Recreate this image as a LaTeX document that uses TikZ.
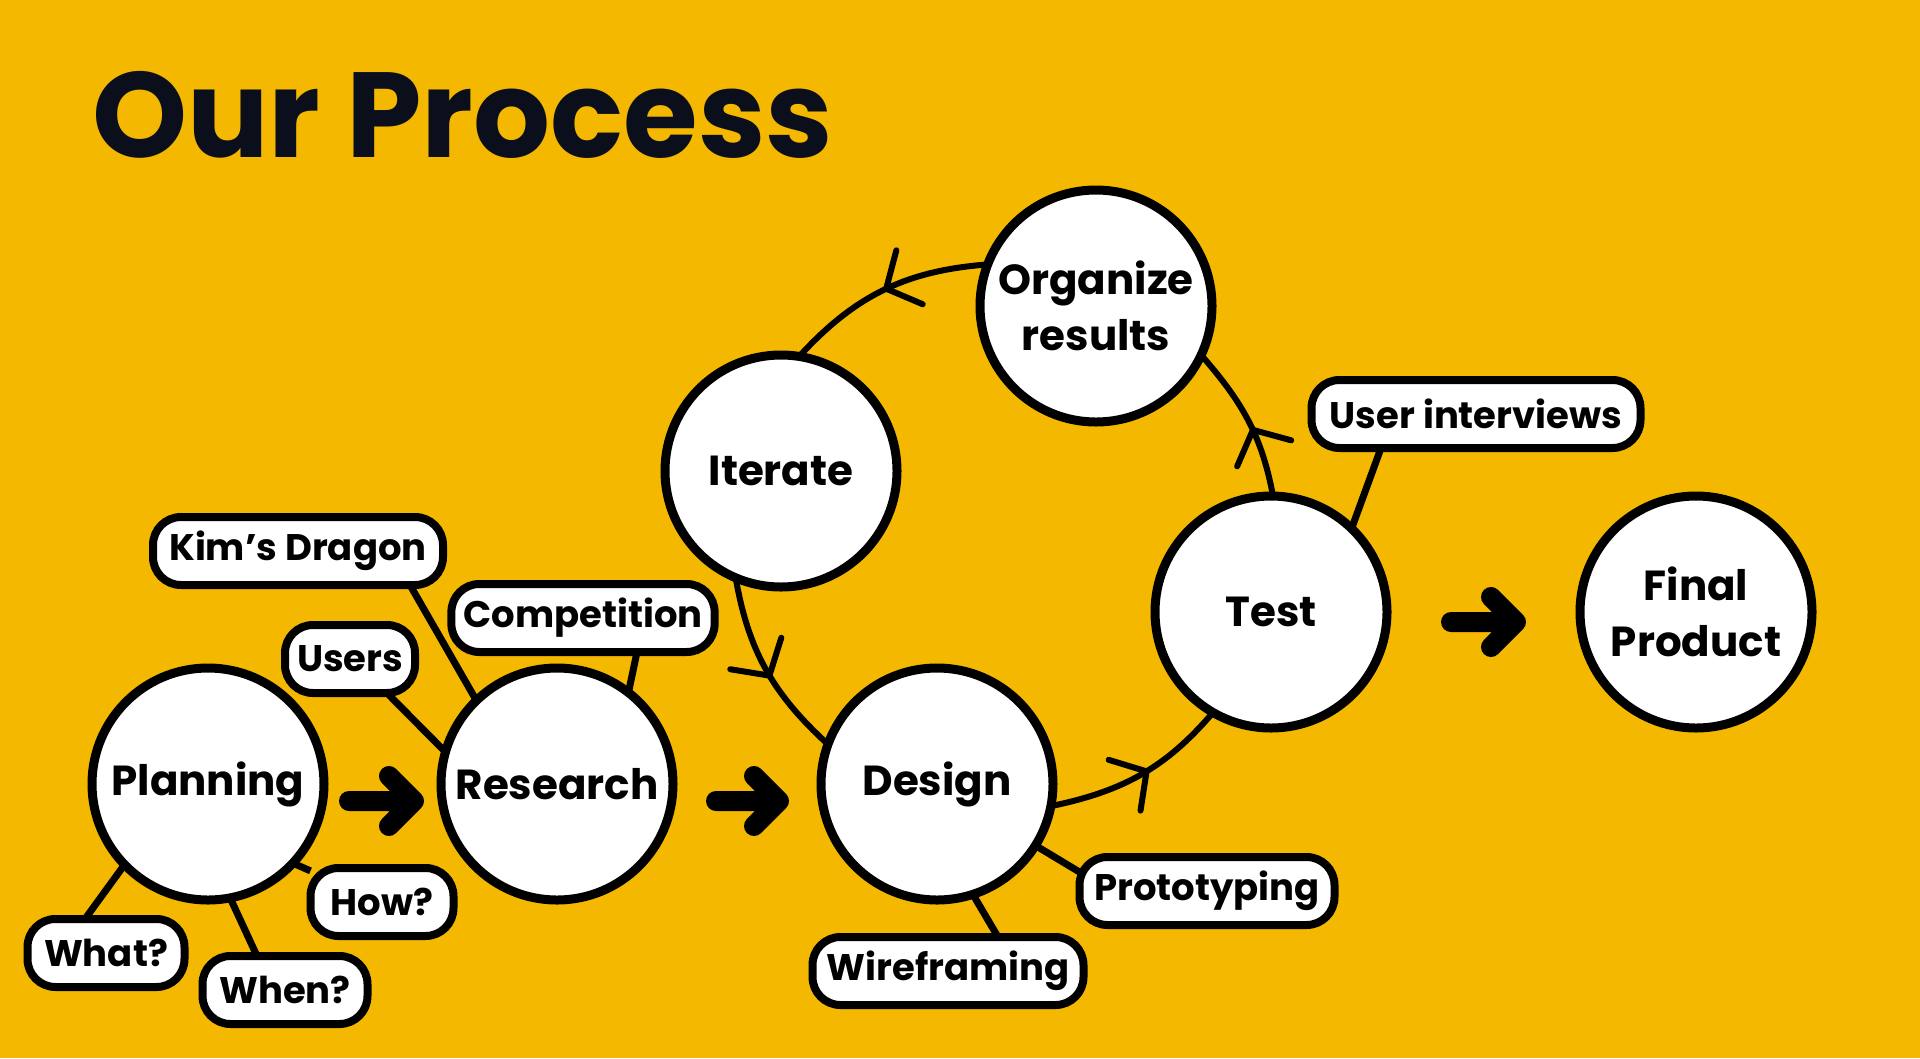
\documentclass[tikz,border=0pt]{standalone}
\usepackage{fontspec}
\setmainfont{Poppins}
\usetikzlibrary{arrows.meta,decorations.markings,backgrounds}
\definecolor{bgc}{HTML}{F5B800}
\definecolor{titlec}{HTML}{0B0F1C}
\tikzset{
  stage/.style={circle, draw=black, fill=white, line width=9pt, minimum size=232pt,
    inner sep=0pt, outer sep=0pt, align=center,
    font=\bfseries\fontsize{42}{56}\selectfont},
  tag/.style={rounded corners=28pt, draw=black, fill=white, line width=8pt,
    minimum height=68pt, inner xsep=12pt, inner ysep=0pt, outer sep=0pt,
    font=\bfseries\fontsize{37}{42}\selectfont},
  link/.style={line width=7pt},
  fat/.style={line width=20pt, line cap=round, line join=round},
  cyc/.style={line width=6pt, postaction={decorate},
    decoration={markings, mark=at position #1 with {\arrow{Straight Barb[round,length=26pt,width=60pt]}}}},
  cyc/.default=0.5
}
\begin{document}
\begin{tikzpicture}[x=1pt,y=-1pt]
\useasboundingbox (0,0) rectangle (1920,1058);
% title
\node[anchor=base west, inner sep=0pt, text=titlec, font=\bfseries\fontsize{121}{128}\selectfont] (title) at (92,157) {Our Process};
% stages
\node[stage] (plan) at (208,784) {Planning};
\node[stage] (res) at (557,784) {Research};
\node[stage] (des) at (937,784) {Design};
\node[stage] (it) at (781,471) {Iterate};
\node[stage] (org) at (1096,306) {Organize\\results};
\node[stage] (test) at (1271,612) {Test};
\node[stage] (fin) at (1696,612) {Final\\Product};
% tags
\node[tag, minimum width=290] (kim) at (298,551) {Kim’s Dragon};
\node[tag, minimum width=257] (comp) at (583,618) {Competition};
\node[tag, minimum width=129] (users) at (350,659) {Users};
\node[tag, minimum width=143] (how) at (382,902) {How?};
\node[tag, minimum width=157] (what) at (106,953) {What?};
\node[tag, minimum width=165] (when) at (285,990) {When?};
\node[tag, minimum width=255] (proto) at (1207,891) {Prototyping};
\node[tag, minimum width=271] (wire) at (948,971) {Wireframing};
\node[tag, minimum width=329] (ui) at (1476,414) {User interviews};
\begin{pgfonlayer}{background}
\fill[bgc] (0,0) rectangle (1920,1058);
% tag links
\draw[link] ([xshift=112pt]kim.south) -- (res.134);
\draw[link] ([xshift=54pt]comp.south) -- (res.52.4);
\draw[link] ([xshift=37pt]users.south) -- (res.164);
\draw[link] (how) -- (plan.317);
\draw[link] ([xshift=-21pt]what.north) -- (plan.224);
\draw[link] ([xshift=-28pt]when.north) -- (plan.281.5);
\draw[link] ([yshift=19pt]proto.west) -- (des.328);
\draw[link] ([xshift=50pt]wire.north) -- (des.288);
\draw[link] ([xshift=-95pt]ui.south) -- (test.46);
% cycle
\draw[cyc] (org.159.7) to[out=184.3, in=47.5] (it.81.7);
\draw[cyc=0.55] (it.247.3) to[out=279.9, in=137.5] (des.160.1);
\draw[cyc=0.55] (des.349.5) to[out=11.7, in=229.6] (test.240.3);
\draw[cyc=0.45] (test.89) to[out=100.6, in=311.2] (org.335.5);
\end{pgfonlayer}
% fat arrows
\draw[fat] ([shift={(25pt,-17pt)}]plan.east) -- ([shift={(-27pt,-17pt)}]res.west)
  ++(-25pt,25pt) -- ([shift={(-27pt,-17pt)}]res.west) -- ++(-25pt,-25pt);
\draw[fat] ([shift={(43pt,-17pt)}]res.east) -- ([shift={(-42pt,-17pt)}]des.west)
  ++(-25pt,25pt) -- ([shift={(-42pt,-17pt)}]des.west) -- ++(-25pt,-25pt);
\draw[fat] ([shift={(64pt,-10pt)}]test.east) -- ([shift={(-64pt,-10pt)}]fin.west)
  ++(-25pt,25pt) -- ([shift={(-64pt,-10pt)}]fin.west) -- ++(-25pt,-25pt);
\end{tikzpicture}
\end{document}
